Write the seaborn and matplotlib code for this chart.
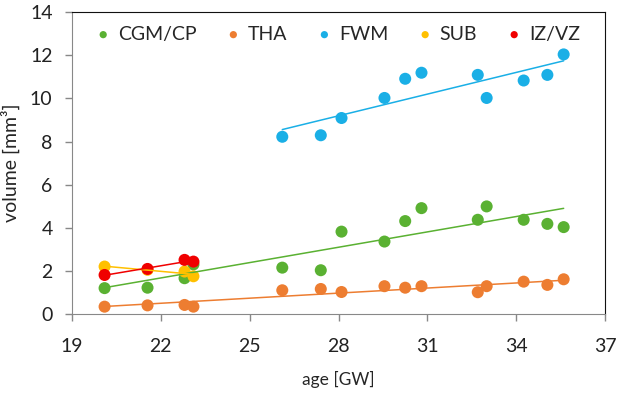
import numpy as np
import pandas as pd
import seaborn as sns
import matplotlib.pyplot as plt

# values
age_all = [20.1, 21.55, 22.8, 23.1, 26.1, 27.4, 28.1, 29.55, 30.25, 30.8, 32.7, 33.0, 34.25, 35.05, 35.6]
cgm_cp = [1.2, 1.22, 1.66, 2.3, 2.15, 2.03, 3.82, 3.36, 4.31, 4.91, 4.37, 4.99, 4.37, 4.18, 4.03]
tha = [0.34, 0.4, 0.42, 0.34, 1.1, 1.16, 1.02, 1.29, 1.22, 1.29, 1.01, 1.29, 1.5, 1.35, 1.61]

age_fwm = [26.1, 27.4, 28.1, 29.55, 30.25, 30.8, 32.7, 33.0, 34.25, 35.05, 35.6]
fwm = [8.22, 8.29, 9.09, 10.02, 10.91, 11.19, 11.09, 10.02, 10.83, 11.09, 12.04]

age_early = [20.1, 21.55, 22.8, 23.1]
sub = [2.2, 2.05, 1.97, 1.75]
iz_vz = [1.81, 2.09, 2.51, 2.43]

series = [
    ('CGM/CP', age_all, cgm_cp, '#5AB132'),
    ('THA', age_all, tha, '#ED7D31'),
    ('FWM', age_fwm, fwm, '#1AAFE6'),
    ('SUB', age_early, sub, '#FFC000'),
    ('IZ/VZ', age_early, iz_vz, '#F00000'),
]

sns.set_style('white')
plt.rcParams['font.family'] = ['Lato', 'DejaVu Sans']

fig = plt.figure(figsize=(6.25, 4.05), dpi=100)
ax = fig.add_axes([0.1152, 0.2247, 0.853, 0.7453])

for name, x, y, col in series:
    df = pd.DataFrame({'age': x, 'vol': y})
    sns.scatterplot(data=df, x='age', y='vol', ax=ax, color=col, s=75,
                    edgecolor='none', label=name, zorder=3)
for name, x, y, col in series:
    df = pd.DataFrame({'age': x, 'vol': y})
    sns.regplot(data=df, x='age', y='vol', ax=ax, scatter=False, ci=None,
                color=col, line_kws={'lw': 1.1, 'zorder': 4})

ax.set_xlim(19, 37)
ax.set_ylim(0, 14)
ax.set_xticks(np.arange(19, 38, 3))
ax.set_yticks(np.arange(0, 15, 2))
ax.set_xlabel('age [GW]', fontsize=12.5, labelpad=12)
ax.set_ylabel('volume [mm³]', fontsize=14, labelpad=7)
ax.tick_params(axis='both', labelsize=14, colors='#222222', length=5,
               width=1, direction='out', bottom=True, left=True)
ax.tick_params(axis='x', pad=12, color='#888888')
ax.tick_params(axis='y', pad=9, color='#888888')
for side in ['left', 'bottom']:
    ax.spines[side].set_color('#888888')
for side in ['top', 'right']:
    ax.spines[side].set_color('#111111')

ax.legend(loc='upper center', ncol=5, frameon=False, fontsize=14,
          handlelength=0.6, handletextpad=0.45, columnspacing=1.6,
          markerscale=0.6, borderaxespad=0.3, bbox_to_anchor=(0.5, 1.0))

fig.savefig('out.png', dpi=100)
